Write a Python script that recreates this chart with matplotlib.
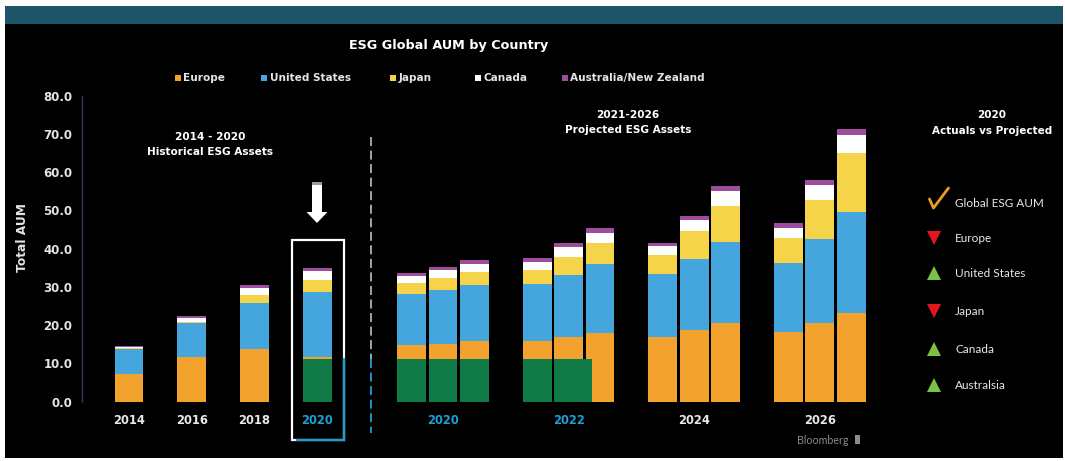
import matplotlib
matplotlib.use("Agg")
import matplotlib.pyplot as plt
from matplotlib.patches import Rectangle, FancyArrow
import numpy as np

# Valeurs des barres (milliers de milliards USD), historique puis projections
annees_hist = ["2014", "2016", "2018", "2020"]
annees_proj = ["2020", "2022", "2024", "2026"]

europe = [7.3, 11.7, 13.8, 11.7,
          14.8, 15.2, 15.8, 15.8, 17.0, 18.0, 17.0, 18.7, 20.5, 18.3, 20.5, 23.3]
etats_unis = [6.5, 8.8, 12.1, 17.0,
              13.3, 14.0, 14.7, 14.9, 16.1, 17.9, 16.3, 18.7, 21.3, 18.0, 22.0, 26.3]
japon = [0.2, 0.4, 2.1, 3.1,
         2.8, 3.0, 3.4, 3.7, 4.8, 5.5, 5.0, 7.2, 9.4, 6.5, 10.2, 15.4]
canada = [0.2, 1.0, 1.6, 2.3,
          1.9, 2.2, 2.2, 2.2, 2.6, 2.8, 2.3, 2.8, 3.9, 2.6, 3.9, 4.6]
australie = [0.4, 0.6, 0.8, 0.9,
             0.9, 0.9, 0.9, 1.0, 0.9, 1.2, 0.9, 1.1, 1.4, 1.3, 1.3, 1.8]

# Bloc vert : Europe réelle 2020
vert_barres = [3, 4, 5, 6, 7, 8]
vert_valeur = [11.1, 11.1, 11.1, 11.1, 11.1, 11.1]

series = ["Europe", "United States", "Japan", "Canada", "Australia/New Zealand"]
couleurs = ["#F4A22E", "#45A6DE", "#F5D44A", "#FFFFFF", "#9E4C9E"]

# Tableau de droite
suivi_noms = ["Global ESG AUM", "Europe", "United States", "Japan", "Canada", "Australsia"]
suivi_etat = ["ok", "bas", "haut", "bas", "haut", "haut"]

# positions : 4 barres historiques espacées de 2, puis 4 groupes de 3
pos = [0, 2, 4, 6]
for centre in [10, 14, 18, 22]:
    pos += [centre - 1, centre, centre + 1]
pos = np.array(pos, dtype=float)

W, H = 1065, 461
fig = plt.figure(figsize=(W / 100, H / 100), dpi=100, facecolor="white")

# fond noir et bandeau
fig.patches.append(Rectangle((5 / W, 3 / H), 1058 / W, 434 / H, transform=fig.transFigure,
                             facecolor="black", edgecolor="none", zorder=-5))
fig.patches.append(Rectangle((5 / W, (H - 24) / H), 1058 / W, 18 / H, transform=fig.transFigure,
                             facecolor="#1C5568", edgecolor="none", zorder=-5))

ax = fig.add_axes([82 / W, (H - 401.7) / H, 800.6 / W, 306.1 / H])
ax.set_facecolor("none")
ax.set_xlim(-1.497, 24.0)
ax.set_ylim(0, 80)

largeur = 0.92
bas = np.zeros(len(pos))
for nom, vals, c in zip(series, [europe, etats_unis, japon, canada, australie], couleurs):
    ax.bar(pos, vals, largeur, bottom=bas, color=c, label=nom, linewidth=0)
    bas += np.array(vals)

larg_vert = [largeur] * 5 + [1.19]
ax.bar(pos[vert_barres] - largeur / 2, vert_valeur, larg_vert, align="edge",
       color="#0F7A46", linewidth=0)

for s in ["top", "right", "bottom"]:
    ax.spines[s].set_visible(False)
ax.spines["left"].set_color("#2E3E50")
ax.spines["left"].set_linewidth(1)

ax.set_yticks(range(0, 81, 10))
ax.yaxis.set_major_formatter(matplotlib.ticker.StrMethodFormatter("{x:.1f}"))
ax.tick_params(axis="y", length=0, pad=7, labelsize=8.5, labelcolor="#E4E4E4")
ax.set_xticks([0, 2, 4, 6, 10, 14, 18, 22], annees_hist + annees_proj)
ax.tick_params(axis="x", length=0, pad=8.5, labelsize=8.3)
for lab in ax.get_yticklabels() + ax.get_xticklabels():
    lab.set_fontweight("bold")
cyan = "#1E9FD6"
for i, lab in enumerate(ax.get_xticklabels()):
    lab.set_color(cyan if i in (3, 4, 5) else "#E8E8E8")

# calque en pixels pour les annotations
ov = fig.add_axes([0, 0, 1, 1])
ov.set_xlim(0, W)
ov.set_ylim(H, 0)
ov.axis("off")
ov.patch.set_alpha(0)

# légende du haut
for nom, c, x in zip(series, couleurs, [177.5, 264, 393, 478, 565]):
    ov.plot(x, 78, marker="s", markersize=4, color=c, markeredgewidth=0)
    ov.text(x + 5.5, 78, nom, fontsize=7.6, fontweight="bold", color="#E4E4E4",
            ha="left", va="center")

gras = dict(color="white", fontweight="bold", ha="center", va="center")
ov.text(449, 46, "ESG Global AUM by Country", fontsize=9.2, **gras)
ov.text(210, 137, "2014 - 2020", fontsize=7.6, **gras)
ov.text(210, 152, "Historical ESG Assets", fontsize=7.6, **gras)
ov.text(628, 115, "2021-2026", fontsize=7.6, **gras)
ov.text(628, 130, "Projected ESG Assets", fontsize=7.6, **gras)
ov.text(992, 115, "2020", fontsize=7.5, **gras)
ov.text(992, 131, "Actuals vs Projected", fontsize=7.5, **gras)
ov.text(23, 237, "Total AUM", rotation=90, fontsize=8.8, color="#E4E4E4",
        fontweight="bold", ha="center", va="center")

# cadre autour de 2020 et flèche
ov.add_patch(Rectangle((292.3, 240), 52, 200, fill=False, edgecolor="white", linewidth=1.6))
ov.plot([344.3, 344.3], [359, 440], color=cyan, linewidth=1.6)
ov.plot([297, 344.3], [440, 440], color=cyan, linewidth=1.6)
ov.add_patch(FancyArrow(317, 183, 0, 40, width=10, head_width=21, head_length=11,
                        length_includes_head=True, color="white", linewidth=0))
ov.add_patch(Rectangle((312, 182), 10, 3, color="#9A9A9A", linewidth=0))

# séparateur pointillé
ov.plot([371, 371], [137, 359], color="#A8B4C2", linewidth=1.3, linestyle=(0, (5, 2.5)))
ov.plot([371, 371], [359, 433], color=cyan, linewidth=1.3, linestyle=(0, (5, 2.5)))

# tableau réel vs projeté
ys = [203, 238, 273, 311, 349, 385]
for nom, etat, y in zip(suivi_noms, suivi_etat, ys):
    if etat == "ok":
        ov.plot([929.5, 933.5, 948.5], [199, 208, 188], color="#E8A020", linewidth=2,
                solid_capstyle="round", solid_joinstyle="round")
    elif etat == "bas":
        ov.plot(934, y, marker="v", color="#E3161D", markersize=9.5, markeredgewidth=0)
    else:
        ov.plot(934, y, marker="^", color="#7CC142", markersize=9.5, markeredgewidth=0)
    ov.text(955, y, nom, fontsize=8.5, family="Lato", color="#E8E8E8", ha="left", va="center")

ov.text(797, 440, "Bloomberg", fontsize=7.7, family="Lato", color="#8C8C8C",
        ha="left", va="center")
ov.add_patch(Rectangle((855, 435), 5, 9, color="#8C8C8C", linewidth=0))

fig.savefig("out.png", dpi=100, facecolor="white")
